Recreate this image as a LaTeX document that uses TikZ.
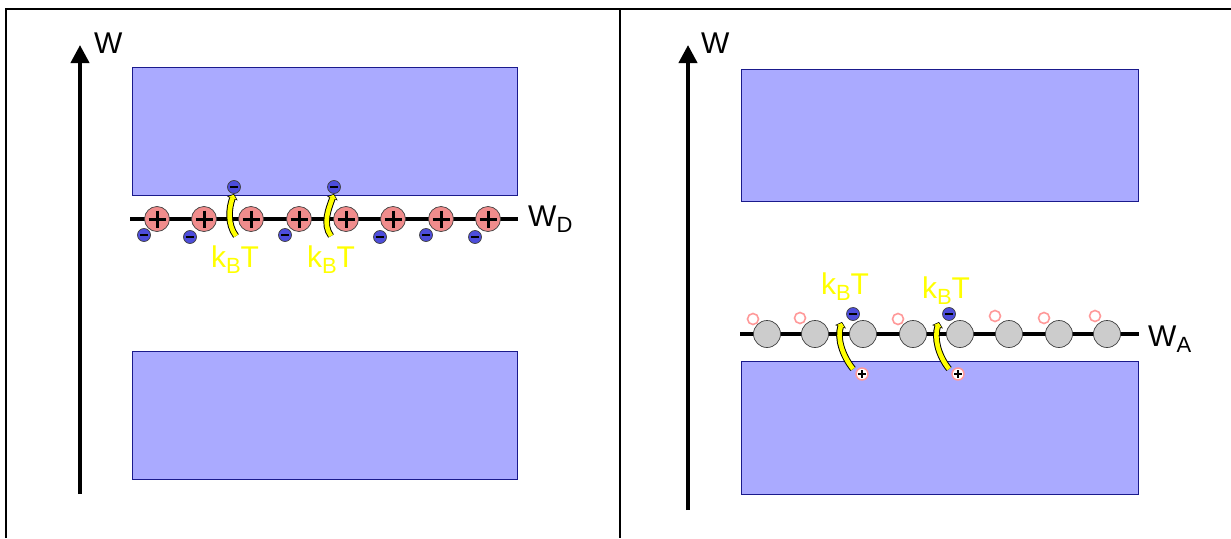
\documentclass[tikz,border=0pt]{standalone}
\usepackage{fontspec}
\setmainfont{Liberation Sans}
\usetikzlibrary{arrows.meta}
\definecolor{bandfill}{HTML}{AAAAFF}
\definecolor{bandline}{HTML}{1A1A8C}
\definecolor{dpink}{HTML}{F08C8C}
\definecolor{eblue}{HTML}{4D4DDB}
\definecolor{agrey}{HTML}{CCCCCC}
\definecolor{hpink}{HTML}{FF9999}
\definecolor{kbty}{HTML}{FFFF00}
\tikzset{
  frame/.style={line width=2pt},
  axis/.style={line width=4pt,-{Triangle[length=18pt,width=18pt]}},
  band/.style={fill=bandfill,draw=bandline,line width=1pt},
  level/.style={line width=4pt},
  donor/.style={circle,draw=black!75,line width=0.7pt,fill=dpink,minimum size=25pt,inner sep=0pt,
    path picture={\draw[draw=black,shift={(path picture bounding box.center)},line width=3pt] (-8.5,0)--(8.5,0) (0,-8.5)--(0,8.5);}},
  electron/.style={circle,draw=black!75,line width=0.7pt,fill=eblue,minimum size=13pt,inner sep=0pt,
    path picture={\draw[draw=black,shift={(path picture bounding box.center)},line width=2.4pt] (-4,0)--(4,0);}},
  acceptor/.style={circle,draw=black!75,line width=0.7pt,fill=agrey,minimum size=27pt,inner sep=0pt},
  hole/.style={circle,draw=hpink,line width=1.6pt,fill=white,minimum size=11pt,inner sep=0pt},
  hplus/.style={circle,draw=hpink,line width=1.4pt,fill=white,minimum size=12pt,inner sep=0pt,
    path picture={\draw[draw=black,shift={(path picture bounding box.center)},line width=2.4pt] (-4,0)--(4,0) (0,-4)--(0,4);}},
  kbtarrow/.style={line width=6.5pt,black,-{Triangle[length=5pt,width=11pt]},
    postaction={draw=kbty,line width=4.6pt,-{Triangle[length=3.5pt,width=8pt]}, shorten >=1pt}},
  lbl/.style={inner sep=0pt,anchor=base west,font=\fontsize{30}{30}\selectfont},
  kbt/.style={inner sep=0pt,anchor=base,text=kbty,font=\fontsize{30}{30}\selectfont},
}
\newcommand{\subsc}[1]{{\fontsize{22}{22}\selectfont\raisebox{-6pt}{#1}}}
\begin{document}
\begin{tikzpicture}[x=1pt,y=-1pt]
\useasboundingbox (0,0) rectangle (1231,538);
% frame
\coordinate (fTL) at (6,9);
\coordinate (fTR) at (1231,9);
\coordinate (fBL) at (6,538);
\coordinate (dT) at (620,9);
\coordinate (dB) at (620,538);
\draw[frame] (fBL) -- (fTL) -- (fTR);
\draw[frame] (dT) -- (dB);

% ===== left panel =====
\coordinate (a1s) at (80,494);
\coordinate (a1e) at (80,45);
\draw[axis] (a1s) -- (a1e);
\node[lbl] (W1) at (94,53) {W};
\draw[band] (132,67) rectangle (517,195);
\draw[band] (132,351) rectangle (517,479);
\coordinate (d1) at (130,219);
\coordinate (d2) at (518,219);
\draw[level] (d1) -- (d2);
\node[lbl] (WD) at (528,226) {W\subsc{D}};
\foreach \x [count=\i] in {157,204,251,299,346,393,441,488}
  \node[donor] (D\i) at (\x,219) {};
\foreach \x/\y [count=\i] in {144/235,190/237,285/235,380/237,426/235,475/237}
  \node[electron] (eL\i) at (\x,\y) {};
\node[electron] (eu1) at (234,187) {};
\node[electron] (eu2) at (334,187) {};
\coordinate (s1) at (236,236);
\coordinate (s2) at (331,236);
\draw[kbtarrow] (s1) .. controls +(-9,-12) and +(-5,14) .. (eu1.south);
\draw[kbtarrow] (s2) .. controls +(-9,-12) and +(-5,14) .. (eu2.south);
\node[kbt] (k1) at (235,267) {k\subsc{B}T};
\node[kbt] (k2) at (331,267) {k\subsc{B}T};

% ===== right panel =====
\coordinate (a2s) at (688,510);
\coordinate (a2e) at (688,45);
\draw[axis] (a2s) -- (a2e);
\node[lbl] (W2) at (701,53) {W};
\draw[band] (741,69) rectangle (1138,201);
\draw[band] (741,361) rectangle (1138,494);
\coordinate (l1) at (740,334);
\coordinate (l2) at (1139,334);
\draw[level] (l1) -- (l2);
\node[lbl] (WA) at (1148,346) {W\subsc{A}};
\foreach \x/\y [count=\i] in {753/319,800/318,898/319,995/316,1044/318,1095/316}
  \node[hole] (h\i) at (\x,\y) {};
\foreach \x [count=\i] in {767,815,863,913,960,1009,1059,1107}
  \node[acceptor] (A\i) at (\x,334) {};
\node[electron] (ea1) at (853,314) {};
\node[electron] (ea2) at (949,314) {};
\node[hplus] (p1) at (862,374) {};
\node[hplus] (p2) at (958,374) {};
\coordinate (t1) at (853,369);
\coordinate (t2) at (949,369);
\draw[kbtarrow] (t1) .. controls +(-11,-14) and +(-5,16) .. (842,322);
\draw[kbtarrow] (t2) .. controls +(-11,-14) and +(-5,16) .. (939,322);
\node[kbt] (k3) at (845,294) {k\subsc{B}T};
\node[kbt] (k4) at (946,298) {k\subsc{B}T};
\end{tikzpicture}
\end{document}
